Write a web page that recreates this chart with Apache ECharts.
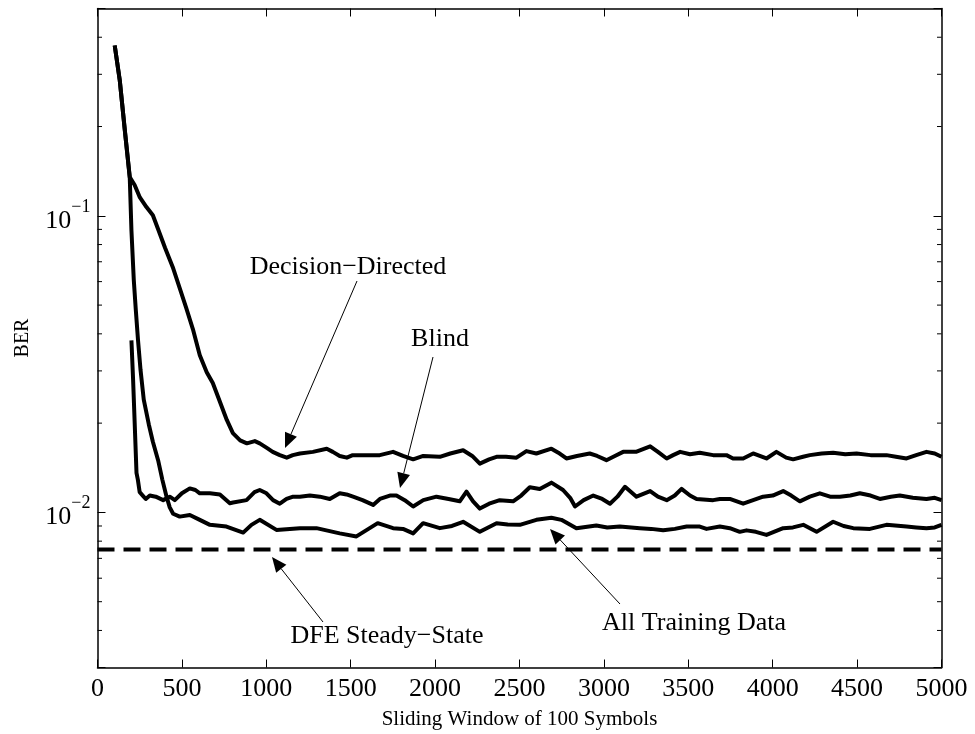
<!DOCTYPE html>
<html><head><meta charset="utf-8">
<script src="https://cdn.jsdelivr.net/npm/echarts@6/dist/echarts.min.js"></script>
<style>html,body{margin:0;padding:0;background:#fff}#c{width:975px;height:734px}</style>
</head><body><div id="c"></div>
<script>
// ---- data ----
var xTickValues = [0,500,1000,1500,2000,2500,3000,3500,4000,4500,5000];
var yMajorTicks = [0.01, 0.1];
var yMinorTicks = [0.004,0.005,0.006,0.007,0.008,0.009,0.02,0.03,0.04,0.05,0.06,0.07,0.08,0.09,0.2,0.3,0.4];
var dfeLevel = 0.0075;

var xDD = [102,132,162,191,220,251,290,328,357,400,446,487,525,565,606,647,683,724,766,802,845,885,932,961,1003,1038,1080,1121,1157,1199,1276,1358,1394,1435,1477,1512,1595,1672,1751,1810,1870,1930,2028,2090,2166,2220,2265,2320,2364,2420,2482,2541,2600,2689,2730,2778,2840,2916,2960,3015,3065,3114,3190,3274,3320,3372,3410,3452,3510,3568,3647,3726,3765,3825,3884,3963,4022,4080,4121,4180,4220,4290,4358,4430,4497,4580,4674,4730,4793,4850,4911,4960,5000];
var yDD = [0.375,0.286,0.194,0.135,0.127,0.1153,0.107,0.1004,0.0908,0.078,0.0671,0.0570,0.049,0.0415,0.0339,0.0297,0.0273,0.0237,0.0205,0.0185,0.0175,0.0171,0.0174,0.0171,0.0165,0.0160,0.0156,0.0153,0.0156,0.0158,0.0160,0.0164,0.0160,0.0155,0.0153,0.0156,0.0156,0.0156,0.0160,0.0155,0.0151,0.0155,0.0154,0.0158,0.0162,0.0155,0.0146,0.0151,0.0154,0.0154,0.0153,0.0161,0.0158,0.0164,0.0159,0.0152,0.0155,0.0158,0.0155,0.0150,0.0155,0.0160,0.0160,0.0167,0.0160,0.0152,0.0156,0.0160,0.0157,0.0159,0.0156,0.0156,0.0152,0.0152,0.0158,0.0152,0.0160,0.0153,0.0151,0.0154,0.0156,0.0158,0.0159,0.0157,0.0158,0.0156,0.0156,0.0154,0.0152,0.0156,0.0160,0.0158,0.0154];

var xBlind = [201,211,221,231,239,250,268,286,310,345,389,428,458,500,547,580,606,646,666,725,784,803,883,930,961,1001,1040,1080,1120,1159,1199,1258,1317,1376,1435,1475,1514,1570,1633,1673,1732,1771,1820,1870,1930,2008,2080,2146,2186,2225,2265,2320,2383,2462,2510,2561,2620,2689,2758,2800,2829,2880,2937,2990,3036,3080,3125,3193,3274,3320,3372,3420,3460,3510,3549,3647,3687,3746,3825,3884,3943,4000,4062,4110,4161,4220,4279,4340,4398,4460,4516,4580,4635,4700,4753,4830,4911,4960,5000];
var yBlind = [0.038,0.0279,0.0195,0.0136,0.0129,0.0117,0.0114,0.0111,0.0114,0.0113,0.0110,0.0113,0.0110,0.0116,0.01205,0.0119,0.0116,0.0116,0.0116,0.0115,0.01074,0.0108,0.0110,0.0117,0.0119,0.0116,0.0110,0.0107,0.0111,0.0113,0.0113,0.0114,0.0113,0.0111,0.0116,0.0115,0.0113,0.0110,0.0106,0.0111,0.0114,0.0114,0.0110,0.01047,0.0110,0.0113,0.0111,0.0109,0.01175,0.0109,0.0103,0.0107,0.0110,0.0109,0.0114,0.01216,0.0120,0.0126,0.0119,0.0112,0.01047,0.0110,0.0114,0.0111,0.0107,0.0113,0.0122,0.0113,0.0118,0.0113,0.0110,0.0114,0.0120,0.0114,0.0111,0.0110,0.0111,0.0111,0.0107,0.0110,0.0113,0.0114,0.0118,0.0114,0.0109,0.0113,0.0116,0.0113,0.0113,0.0114,0.0116,0.0114,0.0111,0.0113,0.0114,0.0112,0.0111,0.0112,0.0110];

var xATD = [102,132,162,191,201,215,227,240,255,274,304,328,359,384,409,428,448,487,547,606,666,764,863,912,961,1060,1199,1297,1435,1534,1660,1751,1810,1870,1929,2028,2100,2166,2265,2364,2430,2502,2600,2689,2748,2837,2955,3020,3094,3213,3280,3351,3420,3490,3568,3608,3687,3746,3805,3845,3900,3963,4062,4120,4181,4260,4358,4420,4477,4576,4674,4793,4850,4911,4960,5000];
var yATD = [0.375,0.286,0.194,0.135,0.0894,0.0607,0.0481,0.0381,0.0302,0.0240,0.0198,0.0173,0.0150,0.0129,0.0113,0.0104,0.0099,0.00968,0.0098,0.00944,0.00908,0.00896,0.00855,0.00908,0.00944,0.00873,0.00885,0.00885,0.0085,0.0083,0.0092,0.00885,0.0088,0.0085,0.0092,0.00885,0.0090,0.0093,0.0086,0.0092,0.0091,0.00908,0.00944,0.0096,0.00944,0.00885,0.00903,0.0089,0.00896,0.00885,0.0088,0.0087,0.0088,0.00896,0.00896,0.0088,0.00896,0.00885,0.0086,0.0087,0.0086,0.0084,0.00885,0.0089,0.00908,0.0086,0.0093,0.0090,0.00885,0.0088,0.00908,0.00896,0.0089,0.00885,0.0089,0.00908];

var annotations = [
  {text:'Decision\u2212Directed', tx:348, ty:267, from:[357,281], to:[285,448]},
  {text:'Blind', tx:440, ty:339, from:[433,357], to:[400,488]},
  {text:'All Training Data', tx:694, ty:623, from:[620,604], to:[550,529]},
  {text:'DFE Steady\u2212State', tx:387, ty:636, from:[323,622], to:[272,557]}
];

// ---- chart ----
var FONT = 'Liberation Serif';
function pairs(xs, ys){ return xs.map(function(x,i){ return [x, ys[i]]; }); }

var gridL = 97.5, gridT = 8.5, gridW = 844, gridH = 659;

var graphics = [];
annotations.forEach(function(a){
  graphics.push({type:'text', x:a.tx, y:a.ty, style:{text:a.text, x:0,y:0, fill:'#000', font:'26px "'+FONT+'"', textAlign:'center', textVerticalAlign:'middle', align:'center', verticalAlign:'middle'}, silent:true, z:50});
  var dx = a.to[0]-a.from[0], dy = a.to[1]-a.from[1];
  var L = Math.sqrt(dx*dx+dy*dy), ux = dx/L, uy = dy/L;
  var hl = 15, hw = 6.5;
  var bx = a.to[0]-ux*hl, by = a.to[1]-uy*hl;
  graphics.push({type:'line', shape:{x1:a.from[0], y1:a.from[1], x2:bx, y2:by}, style:{stroke:'#000', lineWidth:1}, silent:true, z:50});
  graphics.push({type:'polygon', shape:{points:[[a.to[0],a.to[1]],[bx - uy*hw, by + ux*hw],[bx + uy*hw, by - ux*hw]]}, style:{fill:'#000'}, silent:true, z:50});
});

var lineStyleMain = {color:'#000', width:4, join:'round', cap:'butt'};

var option = {
  animation:false,
  backgroundColor:'#fff',
  grid:{left:gridL, top:gridT, width:gridW, height:gridH, containLabel:false, outerBoundsMode:'none'},
  xAxis:[{
    type:'value', min:0, max:5000, interval:500, position:'bottom',
    name:'Sliding Window of 100 Symbols', nameLocation:'middle', nameGap:41,
    nameTextStyle:{fontFamily:FONT, fontSize:21, color:'#000'},
    axisLine:{show:true, onZero:false, lineStyle:{color:'#000', width:1.5}},
    axisTick:{show:true, inside:true, length:8, lineStyle:{color:'#000', width:1}},
    axisLabel:{show:true, margin:9, fontFamily:FONT, fontSize:26, color:'#000', hideOverlap:false,
      formatter:function(v){ return xTickValues.indexOf(v)>=0 ? String(v) : ''; }},
    splitLine:{show:false}
  },{
    type:'value', min:0, max:5000, interval:500, position:'top',
    axisLine:{show:true, onZero:false, lineStyle:{color:'#000', width:1.5}},
    axisTick:{show:true, inside:true, length:8, lineStyle:{color:'#000', width:1}},
    axisLabel:{show:false}, splitLine:{show:false}
  }],
  yAxis:[{
    type:'log', logBase:10, min:0.003, max:0.5, position:'left',
    name:'BER', nameLocation:'middle', nameGap:65,
    nameTextStyle:{fontFamily:FONT, fontSize:20, color:'#000'},
    axisLine:{show:true, onZero:false, lineStyle:{color:'#000', width:1.5}},
    axisTick:{show:true, inside:true, length:8, lineStyle:{color:'#000', width:1}},
    axisLabel:{show:true, margin:7, fontFamily:FONT, color:'#000',
      formatter:function(v){
        if (Math.abs(v-0.1)<1e-9) return '{b|10}{s|\u22121}';
        if (Math.abs(v-0.01)<1e-10) return '{b|10}{s|\u22122}';
        return '';
      },
      rich:{ b:{fontFamily:FONT, fontSize:26, lineHeight:36, color:'#000', verticalAlign:'bottom'},
             s:{fontFamily:FONT, fontSize:18, lineHeight:36, color:'#000', verticalAlign:'top'} }
    },
    splitLine:{show:false}
  },{
    type:'log', logBase:10, min:0.003, max:0.5, position:'right',
    axisLine:{show:true, onZero:false, lineStyle:{color:'#000', width:1.5}},
    axisTick:{show:true, inside:true, length:8, lineStyle:{color:'#000', width:1}},
    axisLabel:{show:false}, splitLine:{show:false}
  }],
  series:[
    {name:'Decision-Directed', type:'line', data:pairs(xDD,yDD), showSymbol:false, lineStyle:lineStyleMain, z:5},
    {name:'Blind', type:'line', data:pairs(xBlind,yBlind), showSymbol:false, lineStyle:lineStyleMain, z:5},
    {name:'All Training Data', type:'line', data:pairs(xATD,yATD), showSymbol:false, lineStyle:lineStyleMain, z:5},
    {name:'DFE Steady-State', type:'line', data:[[0,dfeLevel],[5000,dfeLevel]], showSymbol:false,
      lineStyle:{color:'#000', width:4, type:[17,9]}, z:4},
    {name:'minorTicks', type:'custom', data:yMinorTicks.map(function(v){return [0,v];}), z:6, silent:true, clip:false,
      renderItem:function(params, api){
        var v = api.value(1);
        var pl = api.coord([0, v]), pr = api.coord([5000, v]);
        return {type:'group', children:[
          {type:'line', shape:{x1:pl[0], y1:pl[1], x2:pl[0]+4.5, y2:pl[1]}, style:{stroke:'#000', lineWidth:1}},
          {type:'line', shape:{x1:pr[0], y1:pr[1], x2:pr[0]-4.5, y2:pr[1]}, style:{stroke:'#000', lineWidth:1}}
        ]};
      }
    }
  ],
  graphic:graphics
};

var chart = echarts.init(document.getElementById('c'), null, {renderer:'canvas'});
chart.setOption(option);
</script>
</body></html>
